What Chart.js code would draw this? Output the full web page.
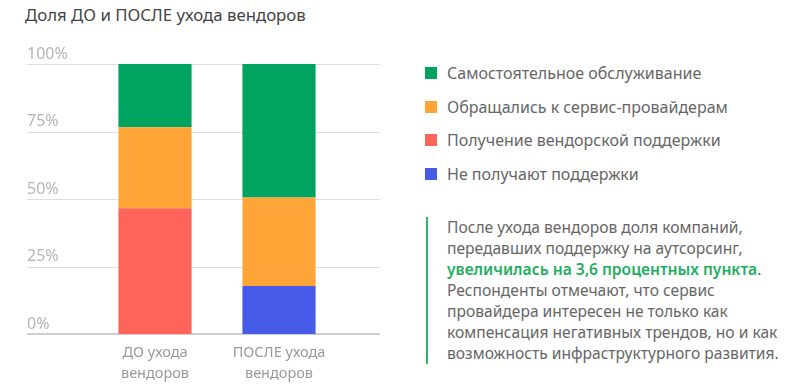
<!DOCTYPE html>
<html lang="ru">
<head>
<meta charset="utf-8">
<script src="https://cdn.jsdelivr.net/npm/chart.js@4.4.1/dist/chart.umd.min.js"></script>
<style>
  body { margin: 0; width: 800px; height: 390px; background: #fff; font-family: "Noto Sans", sans-serif; position: relative; overflow: hidden; }
  #title { position: absolute; left: 25px; top: 3px; font-size: 16.8px; color: #444; }
  #chartBox { position: absolute; left: 0; top: 0; width: 400px; height: 390px; }
  #legend { position: absolute; left: 425px; top: 56px; }
  .item { display: flex; align-items: center; height: 33.7px; font-size: 16px; color: #666; }
  .box { width: 12px; height: 12px; margin-right: 10px; }
  #note { position: absolute; left: 426px; top: 217px; border-left: 2px solid #2fb46a; padding-left: 19px; font-size: 15.6px; line-height: 21px; color: #666; }
  #note b { color: #1fae5f; font-weight: 600; }
</style>
</head>
<body>
<div id="title">Доля ДО и ПОСЛЕ ухода вендоров</div>
<div id="chartBox"><canvas id="barChart"></canvas></div>
<div id="legend"></div>
<div id="note">После ухода вендоров доля компаний,<br>передавших поддержку на аутсорсинг,<br><b>увеличилась на 3,6 процентных пункта</b>.<br>Респонденты отмечают, что сервис<br>провайдера интересен не только как<br>компенсация негативных трендов, но и как<br>возможность инфраструктурного развития.</div>
<script>
const categories = [['ДО ухода', 'вендоров'], ['ПОСЛЕ ухода', 'вендоров']];
const noSupport = [0, 17.8];
const vendorSupport = [46.6, 0];
const serviceProviders = [30.0, 32.8];
const selfService = [23.4, 49.4];
const yTicks = [0, 25, 50, 75, 100];

// bottom of the stack first
const series = [
  { label: 'Не получают поддержки', data: noSupport, color: '#465ce8' },
  { label: 'Получение вендорской поддержки', data: vendorSupport, color: '#ff645a' },
  { label: 'Обращались к сервис-провайдерам', data: serviceProviders, color: '#ffa436' },
  { label: 'Самостоятельное обслуживание', data: selfService, color: '#00a460' }
];

// grid lines run wider than the plot area
const fullGrid = {
  id: 'fullGrid',
  beforeDatasetsDraw(chart) {
    const ctx = chart.ctx;
    const y = chart.scales.y;
    ctx.save();
    y.ticks.forEach(t => {
      const py = Math.round(y.getPixelForValue(t.value));
      const base = t.value === 0;
      ctx.beginPath();
      ctx.lineWidth = base ? 2 : 1;
      ctx.strokeStyle = base ? '#cfcfcf' : '#dedede';
      ctx.moveTo(27, py + (base ? 0 : 0.5));
      ctx.lineTo(380, py + (base ? 0 : 0.5));
      ctx.stroke();
    });
    ctx.restore();
  }
};

new Chart(document.getElementById('barChart'), {
  type: 'bar',
  data: {
    labels: categories,
    datasets: series.map(s => ({
      label: s.label,
      data: s.data,
      backgroundColor: s.color,
      borderWidth: 0,
      barPercentage: 0.59,
      categoryPercentage: 1
    }))
  },
  options: {
    responsive: true,
    maintainAspectRatio: false,
    animation: false,
    layout: { padding: { left: 27, right: 59, top: 64, bottom: 0 } },
    plugins: { legend: { display: false }, tooltip: { enabled: false } },
    scales: {
      x: {
        stacked: true,
        grid: { display: false, drawTicks: false },
        border: { display: false },
        afterFit: s => { s.height = 56; },
        ticks: { color: '#999', padding: 9, font: { family: 'Noto Sans', size: 14.5, lineHeight: 1.4 } }
      },
      y: {
        stacked: true,
        min: 0,
        max: 100,
        afterFit: s => { s.width = 66; },
        afterBuildTicks: s => { s.ticks = yTicks.map(v => ({ value: v })); },
        grid: { display: false, drawTicks: false },
        border: { display: false },
        ticks: {
          crossAlign: 'far',
          labelOffset: -10,
          color: '#b5b5b5',
          font: { family: 'Noto Sans', size: 16 },
          callback: v => v + '%'
        }
      }
    }
  },
  plugins: [fullGrid]
});

const legend = document.getElementById('legend');
series.slice().reverse().forEach(s => {
  const item = document.createElement('div');
  item.className = 'item';
  item.innerHTML = '<span class="box" style="background:' + s.color + '"></span>' + s.label;
  legend.appendChild(item);
});
</script>
</body>
</html>
